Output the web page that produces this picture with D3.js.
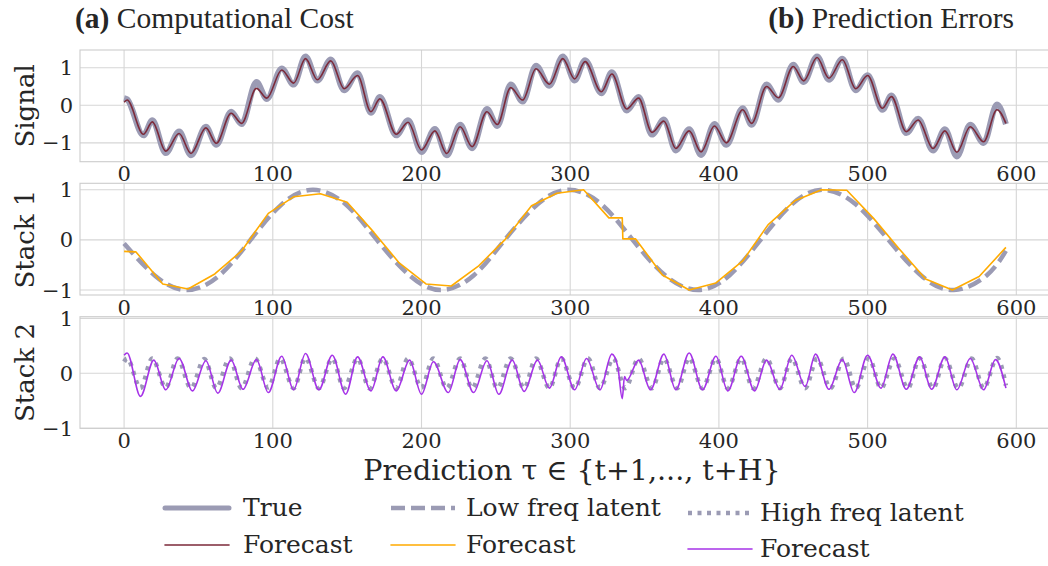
<!DOCTYPE html>
<html>
<head>
<meta charset="utf-8">
<script src="https://cdn.jsdelivr.net/npm/d3@7"></script>
<style>
  body { margin: 0; background: #fff; }
  text { font-family: "DejaVu Serif", serif; fill: #262626; }
</style>
</head>
<body>
<div id="chart"></div>
<script>
// Signal: time steps (at the wiggle extrema) and values
const sigT = [0, 2, 13, 19, 28, 37, 45, 55, 62, 72, 79, 89, 96, 106, 114, 122, 130, 139, 148, 157,
  166, 172, 183, 191, 200, 209, 217, 226, 234, 244, 251, 260, 268, 277, 286, 295, 303, 310, 321, 328,
  338, 346, 355, 363, 371, 380, 388, 397, 405, 416, 422, 432, 440, 450, 457, 466, 474, 483, 492, 500,
  510, 516, 526, 534, 544, 552, 560, 569, 578, 587, 593];
const sigTrue = [0.19, 0.16, -0.80, -0.40, -1.27, -0.70, -1.33, -0.57, -1.05, -0.17, -0.50, 0.62, 0.17, 0.98, 0.55, 1.30, 0.66, 1.22, 0.40, 0.85,
  -0.20, 0.22, -0.80, -0.40, -1.24, -0.63, -1.33, -0.52, -1.14, -0.10, -0.55, 0.55, 0.10, 1.05, 0.52, 1.30, 0.66, 1.20, 0.32, 0.88,
  -0.14, 0.22, -0.78, -0.38, -1.20, -0.64, -1.32, -0.50, -1.05, -0.08, -0.52, 0.55, 0.15, 1.08, 0.62, 1.30, 0.68, 1.24, 0.40, 0.80,
  -0.12, 0.26, -0.74, -0.36, -1.20, -0.64, -1.36, -0.52, -1.00, 0.02, -0.50];
const sigFcst = [0.08, 0.14, -0.77, -0.44, -1.22, -0.75, -1.28, -0.60, -1.01, -0.21, -0.48, 0.45, 0.19, 0.94, 0.59, 1.24, 0.68, 1.18, 0.44, 0.79,
  -0.17, 0.17, -0.77, -0.45, -1.19, -0.68, -1.28, -0.57, -1.10, -0.17, -0.51, 0.47, 0.14, 0.97, 0.56, 1.24, 0.70, 1.16, 0.36, 0.83,
  -0.10, 0.19, -0.72, -0.42, -1.15, -0.68, -1.24, -0.55, -1.00, -0.12, -0.48, 0.50, 0.20, 1.03, 0.65, 1.27, 0.72, 1.21, 0.44, 0.79,
  -0.08, 0.23, -0.70, -0.39, -1.15, -0.68, -1.25, -0.57, -0.97, -0.12, -0.48];

// Stack 1: low frequency latent and its forecast
const lowT = [0, 21, 42, 64, 85, 106, 127, 149, 170, 192, 213, 235, 256, 278, 299,
  321, 342, 364, 386, 407, 428, 449, 470, 492, 514, 536, 558, 580, 593];
const lowTrue = [-0.07, -0.72, -1.00, -0.71, 0.00, 0.71, 1.00, 0.71, 0.00, -0.71, -1.00, -0.71, 0.00, 0.71, 1.00,
  0.71, 0.00, -0.71, -1.00, -0.71, 0.00, 0.71, 1.00, 0.71, 0.00, -0.71, -1.00, -0.71, -0.22];
const lowFcstT = [0, 8, 26, 43, 61, 79, 97, 114, 132, 150, 168, 185, 203, 220, 238, 256, 274, 291,
  309, 326, 335, 335.4, 344, 362, 380, 398, 416, 433, 451, 469, 486, 504, 521, 539, 557, 575, 593];
const lowFcst = [-0.23, -0.24, -0.88, -0.98, -0.68, -0.22, 0.53, 0.86, 0.92, 0.75, 0.15, -0.46, -0.88, -0.92, -0.53, 0.00, 0.68, 0.93,
  1.00, 0.44, 0.44, 0.02, 0.02, -0.70, -1.00, -0.86, -0.42, 0.30, 0.78, 1.00, 0.99, 0.43, -0.17, -0.78, -1.00, -0.73, -0.15];

// Stack 2: high frequency latent and its forecast
const highT = [0, 2, 11, 19, 28, 36, 45, 54, 62, 71, 79, 88, 97, 105, 114, 122, 131, 140, 148, 157,
  165, 174, 183, 191, 200, 208, 217, 226, 234, 243, 251, 260, 269, 277, 286, 294, 303, 312, 320, 329,
  337, 346, 355, 363, 372, 380, 389, 398, 406, 415, 423, 432, 441, 449, 458, 466, 475, 484, 492, 501,
  509, 518, 527, 535, 544, 552, 561, 570, 578, 587, 593];
const highTrue = [0.21, 0.27, -0.27, 0.27, -0.26, 0.27, -0.27, 0.26, -0.27, 0.27, -0.27, 0.27, -0.26, 0.27, -0.27, 0.28, -0.27, 0.27, -0.27, 0.27,
  -0.27, 0.27, -0.27, 0.27, -0.26, 0.27, -0.27, 0.27, -0.27, 0.27, -0.27, 0.27, -0.27, 0.27, -0.27, 0.27, -0.27, 0.27, -0.27, 0.27,
  -0.27, 0.27, -0.27, 0.27, -0.27, 0.28, -0.27, 0.27, -0.27, 0.27, -0.27, 0.27, -0.27, 0.27, -0.27, 0.27, -0.27, 0.27, -0.27, 0.27,
  -0.27, 0.27, -0.27, 0.27, -0.27, 0.27, -0.27, 0.27, -0.27, 0.28, -0.22];
const highFcstT = [0, 2, 11, 20, 28, 37, 46, 55, 63, 72, 80, 89, 97, 106, 114, 122, 131, 140, 149, 157,
  166, 174, 183, 192, 200, 208, 218, 226, 235, 244, 252, 261, 269, 278, 286, 294, 303, 311, 320, 328,
  332, 335, 336.5, 338, 346, 354, 363, 371, 380, 389, 398, 406, 415, 424, 432, 441, 449, 458, 465, 474,
  483, 491, 500, 509, 517, 526, 535, 543, 552, 560, 569, 578, 586, 593];
const highFcst = [0.33, 0.37, -0.42, 0.24, -0.30, 0.27, -0.32, 0.23, -0.36, 0.24, -0.29, 0.25, -0.35, 0.31, -0.30, 0.36, -0.30, 0.33, -0.38, 0.30,
  -0.32, 0.30, -0.32, 0.24, -0.38, 0.21, -0.35, 0.25, -0.35, 0.23, -0.38, 0.24, -0.33, 0.24, -0.27, 0.30, -0.30, 0.27, -0.30, 0.35,
  0.12, -0.46, -0.06, -0.13, 0.24, -0.30, 0.35, -0.30, 0.37, -0.30, 0.31, -0.32, 0.31, -0.32, 0.24, -0.29, 0.33, -0.24, 0.35, -0.29,
  0.25, -0.35, 0.33, -0.27, 0.35, -0.29, 0.30, -0.29, 0.30, -0.30, 0.27, -0.30, 0.25, -0.27];

const xTicks = [0, 100, 200, 300, 400, 500, 600];
const yTicks = [-1, 0, 1];
const panelNames = ["Signal", "Stack 1", "Stack 2"];
const legendCols = [["True", "Forecast"], ["Low freq latent", "Forecast"], ["High freq latent", "Forecast"]];

const gray = "#9b9bb4";
const width = 1048, height = 566;

const svg = d3.select("#chart").append("svg")
    .attr("width", width)
    .attr("height", height);

const x = d3.scaleLinear().domain([-29.65, 622.65]).range([80, 1050]);

const panels = [
  {top: 50, bottom: 161.7, domain: [-1.5, 1.47]},
  {top: 183.3, bottom: 295, domain: [-1.1, 1.13]},
  {top: 316.7, bottom: 428.3, domain: [-1, 1.03]}
];

// series for each panel: true first, forecast on top
const series = [
  [
    {t: sigT, v: sigTrue, color: gray, w: 6, dash: null, curve: d3.curveMonotoneX},
    {t: sigT, v: sigFcst, color: "#7c2a3a", w: 1.6, dash: null, curve: d3.curveMonotoneX}
  ],
  [
    {t: lowT, v: lowTrue, color: gray, w: 4.5, dash: "14,6", curve: d3.curveNatural},
    {t: lowFcstT, v: lowFcst, color: "#ffab00", w: 1.6, dash: null, curve: d3.curveLinear}
  ],
  [
    {t: highT, v: highTrue, color: gray, w: 4.5, dash: "4,5.5", curve: d3.curveMonotoneX},
    {t: highFcstT, v: highFcst, color: "#a633e8", w: 1.6, dash: null, curve: d3.curveMonotoneX}
  ]
];

panels.forEach((p, i) => {
  const y = d3.scaleLinear().domain(p.domain).range([p.bottom, p.top]);
  const g = svg.append("g");

  // grid
  g.selectAll(".gy").data(yTicks).enter().append("line")
      .attr("x1", 80).attr("x2", 1050)
      .attr("y1", d => y(d)).attr("y2", d => y(d))
      .attr("stroke", "#d6d6d6").attr("stroke-width", 1.1);
  g.selectAll(".gx").data(xTicks).enter().append("line")
      .attr("x1", d => x(d)).attr("x2", d => x(d))
      .attr("y1", p.top).attr("y2", p.bottom)
      .attr("stroke", "#d6d6d6").attr("stroke-width", 1.1);

  // frame
  g.append("rect")
      .attr("x", 80).attr("y", p.top)
      .attr("width", 970).attr("height", p.bottom - p.top)
      .attr("fill", "none").attr("stroke", "#cccccc").attr("stroke-width", 1.1);

  // tick labels
  g.selectAll(".xl").data(xTicks).enter().append("text")
      .attr("x", d => x(d)).attr("y", p.bottom + 19.5)
      .attr("text-anchor", "middle").style("font-size", "21px")
      .text(d => d);
  g.selectAll(".yl").data(yTicks).enter().append("text")
      .attr("x", 73).attr("y", d => y(d)).attr("dy", "0.36em")
      .attr("text-anchor", "end").style("font-size", "21px")
      .text(d => d3.format("d")(d));

  // axis name
  g.append("text")
      .attr("transform", `translate(25,${(p.top + p.bottom) / 2}) rotate(-90)`)
      .attr("text-anchor", "middle").attr("dy", "0.36em")
      .style("font-size", "26px")
      .text(panelNames[i]);

  // lines
  series[i].forEach(s => {
    const line = d3.line()
        .x((d, k) => x(s.t[k]))
        .y(d => y(d))
        .curve(s.curve);
    g.append("path")
        .datum(s.v)
        .attr("d", line)
        .attr("fill", "none")
        .attr("stroke", s.color)
        .attr("stroke-width", s.w)
        .attr("stroke-dasharray", s.dash)
        .attr("stroke-linejoin", "round");
  });
});

// x axis title
svg.append("text")
    .attr("x", 572).attr("y", 480)
    .attr("text-anchor", "middle").style("font-size", "28.5px")
    .text("Prediction τ ∈ {t+1,..., t+H}");

// top titles
const t1 = svg.append("text").attr("x", 75).attr("y", 28)
    .style("font-family", "Liberation Serif").style("font-size", "29.5px");
t1.append("tspan").style("font-weight", "bold").text("(a)");
t1.append("tspan").text(" Computational Cost");
const t2 = svg.append("text").attr("x", 1014).attr("y", 28).attr("text-anchor", "end")
    .style("font-family", "Liberation Serif").style("font-size", "29.5px");
t2.append("tspan").style("font-weight", "bold").text("(b)");
t2.append("tspan").text(" Prediction Errors");

// legend
const legendStyle = [
  [{color: gray, w: 5, dash: null}, {color: "#7c2a3a", w: 1.6, dash: null}],
  [{color: gray, w: 4.5, dash: "14,6"}, {color: "#ffab00", w: 1.6, dash: null}],
  [{color: gray, w: 4.5, dash: "4,5.5"}, {color: "#a633e8", w: 1.6, dash: null}]
];
const colX = [165, 391, 688];
const textX = [243, 466, 760];
const rowY = [[508, 545], [508, 545], [513, 549]];

legendCols.forEach((col, c) => {
  col.forEach((label, r) => {
    const st = legendStyle[c][r];
    const yy = rowY[c][r];
    svg.append("line")
        .attr("x1", colX[c]).attr("x2", colX[c] + 64)
        .attr("y1", yy).attr("y2", yy)
        .attr("stroke", st.color).attr("stroke-width", st.w)
        .attr("stroke-dasharray", st.dash)
        .attr("stroke-linecap", st.dash ? "butt" : "round");
    svg.append("text")
        .attr("x", textX[c]).attr("y", yy).attr("dy", "0.33em")
        .style("font-size", "25px")
        .text(label);
  });
});
</script>
</body>
</html>
